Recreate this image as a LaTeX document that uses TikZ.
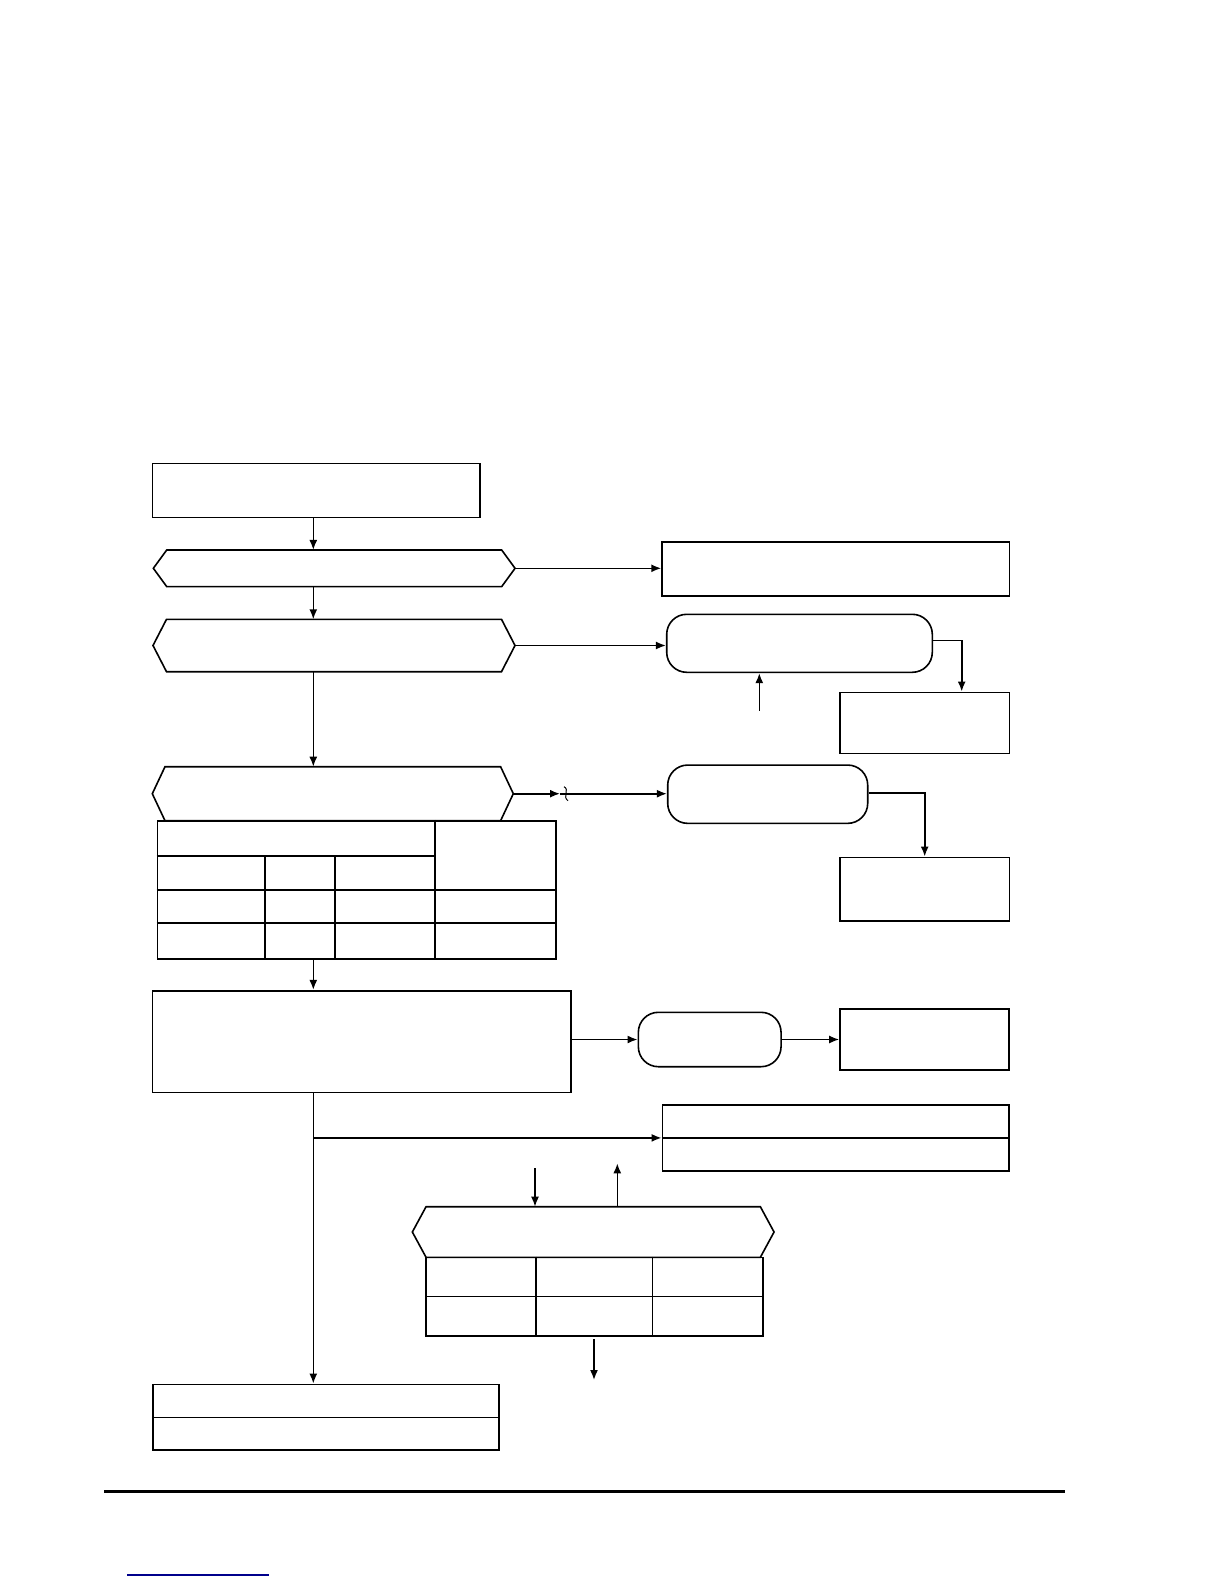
\documentclass[tikz,border=0pt]{standalone}
\usepackage{xcolor}
\usepackage{tikz}
\usetikzlibrary{positioning, arrows.meta, calc}

\definecolor{linkblue}{RGB}{0,0,140}

\newcommand{\hexframe}[2]{%
  \draw (#1.west) -- ([xshift=#2]#1.north west) -- ([xshift=-#2]#1.north east)
    -- (#1.east) -- ([xshift=-#2]#1.south east) -- ([xshift=#2]#1.south west) -- cycle;}

\begin{document}
\begin{tikzpicture}[x=1pt, y=-1pt, line width=1.6pt,
  >={Latex[length=10pt, width=8pt]},
  box/.style={draw, rectangle, inner sep=0pt},
  rbox/.style={draw, rectangle, rounded corners=20pt, inner sep=0pt},
  hexbox/.style={rectangle, inner sep=0pt, outer sep=0pt},
  divider/.style={line width=1.2pt}]
\useasboundingbox (0,0) rectangle (1224,1584);

\coordinate (spine) at (313.3,0);

\node[box, minimum width=327.7pt, minimum height=54pt] (start) at (316.2,490.3) {};
\node[hexbox, minimum width=361.7pt, minimum height=36.7pt] (h1) at (334.2,568.3) {};
\node[hexbox, minimum width=362pt, minimum height=52.4pt] (h2) at (334,645.5) {};
\node[hexbox, minimum width=361pt, minimum height=54pt] (h3) at (332.8,793.7) {};
\node[box, minimum width=398.7pt, minimum height=138.3pt] (tab1) at (356.7,889.9) {};
\node[box, minimum width=418.2pt, minimum height=101.6pt] (proc) at (361.6,1041.5) {};
\node[box, minimum width=346.3pt, minimum height=65.7pt] (last) at (325.9,1417.2) {};

\node[box, minimum width=347.3pt, minimum height=54pt] (notice) at (835.7,568.7) {};
\node[rbox, minimum width=265.6pt, minimum height=58pt] (wait1) at (799.5,643.3) {};
\node[box, minimum width=169.3pt, minimum height=61pt] (res1) at (924.7,722.8) {};
\node[rbox, minimum width=200pt, minimum height=58.3pt] (wait2) at (767.7,794.2) {};
\node[box, minimum width=169.3pt, minimum height=63.4pt] (res2) at (924.7,889) {};
\node[rbox, minimum width=142.7pt, minimum height=54.4pt] (wait3) at (709.7,1039.5) {};
\node[box, minimum width=169pt, minimum height=61pt] (res3) at (924.5,1039.5) {};
\node[box, minimum width=346.7pt, minimum height=65.7pt] (split) at (835.7,1137.9) {};

\node[hexbox, minimum width=361.7pt, minimum height=50.6pt] (h4) at (593.2,1232) {};
\node[box, minimum width=336.7pt, minimum height=78.7pt] (tab2) at (594.4,1296.7) {};

\hexframe{h1}{13.4pt}
\hexframe{h2}{13.5pt}
\hexframe{h3}{12.7pt}
\hexframe{h4}{13.7pt}

\draw[divider] (split.west) -- (split.east);
\draw[divider] (last.west) -- (last.east);

\draw ($(tab1.north west)+(0,36)$) -- ($(tab1.north west)+(278.4,36)$);
\foreach \r in {70.3,103.3}
  \draw ($(tab1.north west)+(0,\r)$) -- ($(tab1.north east)+(0,\r)$);
\foreach \c in {108.4,178.4}
  \draw ($(tab1.north west)+(\c,36)$) -- ($(tab1.south west)+(\c,0)$);
\draw ($(tab1.north west)+(278.4,0)$) -- ($(tab1.south west)+(278.4,0)$);

\draw ($(tab2.north west)+(0,40)$) -- ($(tab2.north east)+(0,40)$);
\foreach \c in {110.7,227.3}
  \draw ($(tab2.north west)+(\c,0)$) -- ($(tab2.south west)+(\c,0)$);

\coordinate (in1) at (759.3,710.7);
\coordinate (brk) at (560,793.7);
\coordinate (in4) at (535,1168.3);
\coordinate (out4) at (617.3,1163.3);
\coordinate (out5a) at (594,1339);
\coordinate (out5b) at (594,1380);

\draw[->] (start.south -| spine) -- (h1.north -| spine);
\draw[->] (h1.south -| spine) -- (h2.north -| spine);
\draw[->] (h2.south -| spine) -- (h3.north -| spine);
\draw[->] (tab1.south -| spine) -- (proc.north -| spine);
\draw[->] (proc.south -| spine) -- (last.north -| spine);
\draw[->] (split.west -| spine) -- (split.west);

\draw[->] (h1.east) -- (h1.east -| notice.west);
\draw[->] (h2.east) -- (h2.east -| wait1.west);
\draw[->] (in1) -- (in1 |- wait1.south);
\draw[->] ([yshift=3pt]wait1.east) -| ([xshift=37pt]res1.north);

\draw[->] (h3.east) -- (brk);
\draw[line width=1pt] ($(brk)+(4,-7)$) .. controls ($(brk)+(10,-4)$) and ($(brk)+(2,3)$) .. ($(brk)+(8,7)$);
\draw[->] (brk) -- (brk -| wait2.west);
\draw[->] ([yshift=1.5pt]wait2.east) -| (res2.north);

\draw[->] (proc.east |- wait3.west) -- (wait3.west);
\draw[->] (wait3.east) -- (res3.west |- wait3.east);

\draw[->] (in4) -- (in4 |- h4.north);
\draw[->] (out4 |- h4.north) -- (out4);
\draw[->] (out5a) -- (out5b);

\draw[line width=3pt] (104,1491.7) -- (1065,1491.7);
\draw[linkblue, line width=1.5pt] (127.3,1575) -- (269,1575);
\end{tikzpicture}
\end{document}
